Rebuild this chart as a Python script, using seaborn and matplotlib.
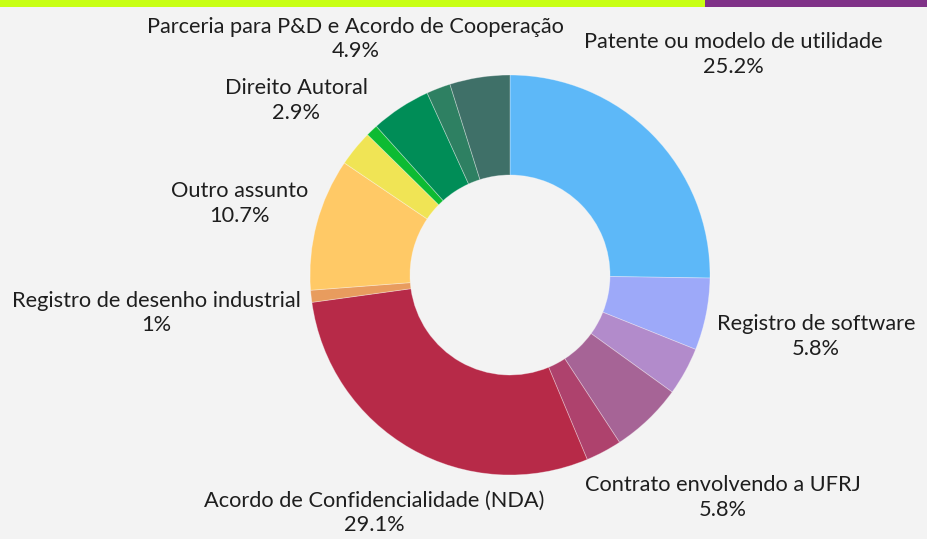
import numpy as np
import matplotlib
matplotlib.use("Agg")
import matplotlib.pyplot as plt
from matplotlib.patches import Rectangle
import seaborn as sns

# slices clockwise from 12 o'clock (counts; percentages derived from them)
categories = [
    "Patente ou modelo de utilidade", "Registro de software", "", "Contrato envolvendo a UFRJ", "",
    "Acordo de Confidencialidade (NDA)", "Registro de desenho industrial", "Outro assunto",
    "Direito Autoral", "", "Parceria para P&D e Acordo de Cooperação", "", "",
]
counts = [26, 6, 4, 6, 3, 30, 1, 11, 3, 1, 5, 2, 5]
colors = ["#5DB8F8", "#9DA9F9", "#B28BCB", "#A66496", "#AE426D", "#B72A48", "#E89C5E",
          "#FFC966", "#F0E455", "#0DBB32", "#008D57", "#2E8062", "#3F7068"]
# distance of each label from the centre (in outer radii)
label_r = [1.57, 1.56, 1.5, 1.54, 1.5, 1.37, 1.78, 1.40, 1.38, 1.4, 1.41, 1.4, 1.4]

sns.set_theme(style="white")
plt.rcParams["font.family"] = ["Lato", "DejaVu Sans"]

bg = "#F3F3F3"
fig = plt.figure(figsize=(9.28, 5.39), dpi=100, facecolor=bg)
ax = fig.add_axes([0, 0, 1, 1])
ax.set_facecolor(bg)

wedges, _ = ax.pie(counts, colors=colors, startangle=90, counterclock=False, radius=1.0,
                   wedgeprops=dict(width=0.5, edgecolor=(1, 1, 1, 0.35), linewidth=0.6))

total = sum(counts)
for w, name, c, r in zip(wedges, categories, counts, label_r):
    if not name:
        continue
    mid = np.deg2rad((w.theta1 + w.theta2) / 2)
    pct = f"{c / total * 100:.1f}".rstrip("0").rstrip(".") + "%"
    ax.text(r * np.cos(mid), r * np.sin(mid), f"{name}\n{pct}", ha="center", va="center",
            fontsize=15.7, color="#1E1E1E", linespacing=1.3)

# 200 px per unit, centre at (510, 275) px
ax.set_xlim(-510 / 200, (928 - 510) / 200)
ax.set_ylim(-(539 - 275) / 200, 275 / 200)
ax.set_aspect("auto")
ax.axis("off")

fig.add_artist(Rectangle((0, 1 - 7 / 539), 705 / 928, 7 / 539, transform=fig.transFigure,
                         color="#C8FF14", lw=0))
fig.add_artist(Rectangle((705 / 928, 1 - 7 / 539), 223 / 928, 7 / 539, transform=fig.transFigure,
                         color="#7F3187", lw=0))

fig.savefig("out.png", dpi=100, facecolor=bg)
